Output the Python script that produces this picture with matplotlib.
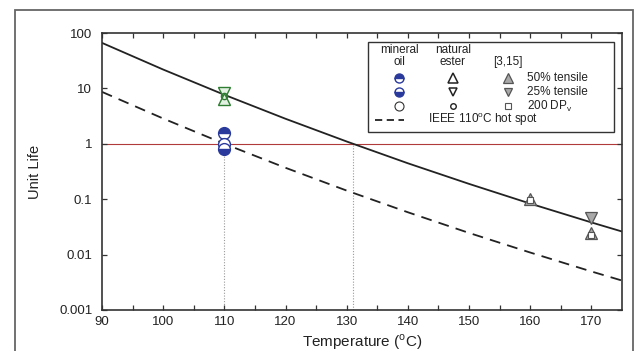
import matplotlib
matplotlib.use("Agg")
import matplotlib.pyplot as plt
from matplotlib.patches import Rectangle
from matplotlib.ticker import FixedLocator, NullLocator

plt.rcParams['font.family'] = ['Liberation Sans', 'DejaVu Sans']

# ---- data ----
temps = [90, 100, 110, 120, 130, 140, 150, 160, 170, 175]
life_solid = [66.3, 21.9, 7.67, 2.83, 1.10, 0.445, 0.189, 0.0833, 0.0381, 0.0261]
life_ieee = [8.65, 2.86, 1.0, 0.369, 0.143, 0.0581, 0.0246, 0.0109, 0.00496, 0.0034]

# mineral oil (110 C)
mo_T = [110]
mo_50 = [1.55]
mo_25 = [0.81]
mo_dp = [1.0]
# natural ester (110 C)
ne_T = [110]
ne_50 = [6.4]
ne_25 = [8.3]
ne_dp = [7.2]
# [3,15] data
ref_T50 = [160, 170]
ref_50 = [0.10, 0.0245]
ref_T25 = [170]
ref_25 = [0.046]
ref_Tdp = [160, 170]
ref_dp = [0.095, 0.023]

cross_T = [110, 131]
cross_top = [0.8, 1.0]

xticks = [90, 100, 110, 120, 130, 140, 150, 160, 170]
yticks = [0.001, 0.01, 0.1, 1, 10, 100]
yticklabels = ['0.001', '0.01', '0.1', '1', '10', '100']

# ---- figure ----
W, H = 635, 351
fig = plt.figure(figsize=(W / 100, H / 100), dpi=100)
L, R, T, B = 102, 622, 33, 310
ax = fig.add_axes([L / W, 1 - B / H, (R - L) / W, (B - T) / H])

# outer frame
fig.add_artist(Rectangle((15 / W, -0.1), (633 - 15) / W, (1 - 10 / H) + 0.1,
                         transform=fig.transFigure, fill=False, ec='#666666', lw=1.3))

ax.set_yscale('log')
ax.set_xlim(90, 175)
ax.set_ylim(0.001, 100)

ax.axhline(1, color='#b03a3a', lw=0.8, zorder=1)
ax.vlines(cross_T, 0.001, cross_top, colors='#9a9a9a', linestyles=(0, (1, 1.5)), lw=0.8, zorder=1)

ax.plot(temps, life_solid, color='#222222', lw=1.3, zorder=2)
ax.plot(temps, life_ieee, color='#222222', lw=1.3, ls=(0, (6, 4)), zorder=2)

blue = '#2a3a9c'
ms = 8.5
ax.plot(mo_T, mo_50, 'o', ms=ms, mfc=blue, mfcalt='white', fillstyle='top', mec=blue, mew=1.0, zorder=4)
ax.plot(mo_T, mo_dp, 'o', ms=ms, mfc='white', mec=blue, mew=1.0, zorder=4)
ax.plot(mo_T, mo_25, 'o', ms=ms, mfc=blue, mfcalt='white', fillstyle='bottom', mec=blue, mew=1.0, zorder=4)

green = '#2e7d32'
gfill = '#e3f1e3'
ax.plot(ne_T, ne_25, 'v', ms=ms, mfc=gfill, mec=green, mew=1.0, zorder=4)
ax.plot(ne_T, ne_50, '^', ms=ms, mfc=gfill, mec=green, mew=1.0, zorder=4)
ax.plot(ne_T, ne_dp, 'o', ms=4.5, mfc='none', mec=green, mew=1.0, zorder=5)

gray = '#a8a8a8'
gedge = '#555555'
ax.plot(ref_T25, ref_25, 'v', ms=ms, mfc=gray, mec=gedge, mew=0.9, zorder=4)
ax.plot(ref_T50, ref_50, '^', ms=ms, mfc=gray, mec=gedge, mew=0.9, zorder=4)
ax.plot(ref_Tdp, ref_dp, 's', ms=4, mfc='white', mec=gedge, mew=0.8, zorder=5)

# axes styling
for s in ax.spines.values():
    s.set_color('#333333')
    s.set_linewidth(1.2)
ax.xaxis.set_major_locator(FixedLocator(xticks))
ax.xaxis.set_minor_locator(FixedLocator([95 + 10 * i for i in range(8)]))
ax.set_yticks(yticks)
ax.set_yticklabels(yticklabels)
ax.yaxis.set_minor_locator(NullLocator())
ax.tick_params(axis='both', which='both', direction='in', top=True, right=True,
               length=3.5, width=0.9, color='#333333', labelsize=9.5, labelcolor='#222222')
ax.tick_params(axis='x', pad=4)
ax.tick_params(axis='y', pad=7)

ax.set_ylabel('Unit Life', fontsize=10.5, color='#222222', va='center')
ax.yaxis.set_label_coords((35 - L) / (R - L), 0.5)
ax.set_xlabel('Temperature ($^\\mathregular{o}$C)', fontsize=11, color='#222222', va='center')
ax.xaxis.set_label_coords(0.5, (B - 342) / (B - T))

# ---- manual legend ----
def fx(px):
    return (px - L) / (R - L)

def fy(py):
    return (B - py) / (B - T)

tr = ax.transAxes
ax.add_patch(Rectangle((fx(368), fy(132)), fx(614) - fx(368), fy(42) - fy(132), transform=tr,
                       fill=True, fc='white', ec='#333333', lw=1.0, zorder=6))
fs = 8.5
c1, c2, c3, cl = fx(399), fx(453), fx(508), fx(527)
r0, r1 = fy(50), fy(62)
ra, rb, rc, rd = fy(78), fy(92), fy(106), fy(120)
kw = dict(transform=tr, fontsize=fs, color='#222222', zorder=7)
ax.text(c1, r0, 'mineral', ha='center', va='center', **kw)
ax.text(c1, r1, 'oil', ha='center', va='center', **kw)
ax.text(c2, r0, 'natural', ha='center', va='center', **kw)
ax.text(c2, r1, 'ester', ha='center', va='center', **kw)
ax.text(c3, r1, '[3,15]', ha='center', va='center', **kw)
ax.text(cl, ra, '50% tensile', ha='left', va='center', **kw)
ax.text(cl, rb, '25% tensile', ha='left', va='center', **kw)
ax.text(cl, rc, '200 DP$_\\mathregular{v}$', ha='left', va='center', **kw)
ax.text(fx(428), rd, 'IEEE 110$^\\mathregular{o}$C hot spot', ha='left', va='center', **kw)
lk = dict(transform=tr, clip_on=False, zorder=7)
lms = 6.5
ax.plot([c1], [ra], 'o', ms=lms, mfc=blue, mfcalt='white', fillstyle='top', mec=blue, mew=1.0, **lk)
ax.plot([c1], [rb], 'o', ms=lms, mfc=blue, mfcalt='white', fillstyle='bottom', mec=blue, mew=1.0, **lk)
ax.plot([c1], [rc], 'o', ms=lms, mfc='white', mec='#333333', mew=0.8, **lk)
ax.plot([c2], [ra], '^', ms=lms + 1, mfc='white', mec='#222222', mew=1.1, **lk)
ax.plot([c2], [rb], 'v', ms=lms - 0.5, mfc='white', mec='#222222', mew=1.1, **lk)
ax.plot([c2], [rc], 'o', ms=4, mfc='white', mec='#222222', mew=1.0, **lk)
ax.plot([c3], [ra], '^', ms=lms + 1, mfc=gray, mec=gedge, mew=0.9, **lk)
ax.plot([c3], [rb], 'v', ms=lms - 0.5, mfc=gray, mec=gedge, mew=0.9, **lk)
ax.plot([c3], [rc], 's', ms=4, mfc='white', mec=gedge, mew=0.8, **lk)
ax.plot([fx(375), fx(404)], [rd, rd], color='#222222', lw=1.3, ls=(0, (4, 2.5)), **lk)

fig.savefig('out.png', dpi=100)
